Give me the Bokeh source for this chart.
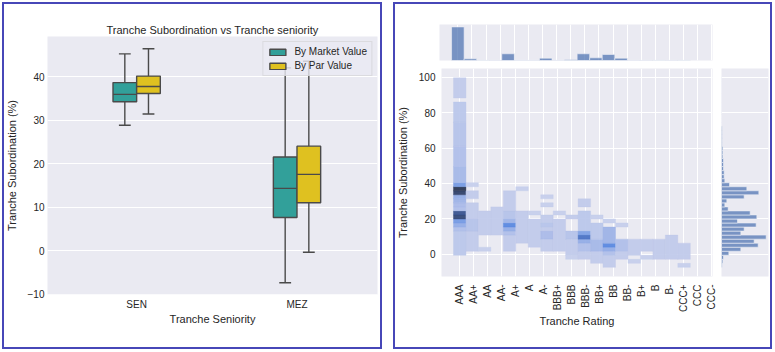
import math
import numpy as np
from bokeh.plotting import figure
from bokeh.layouts import row, column
from bokeh.models import (ColumnDataSource, FixedTicker, Legend, LegendItem, Range1d,
                          Grid, Spacer, LinearColorMapper)
from bokeh.embed import file_html
from bokeh.resources import INLINE

# ---------------- data: left panel (box plots) ----------------
SENIORITY = ["SEN", "MEZ"]
SERIES = ["By Market Value", "By Par Value"]
market_low = [28.8, -7.4]
market_q1 = [34.2, 7.6]
market_med = [35.9, 14.3]
market_q3 = [38.6, 21.5]
market_high = [45.2, 42.0]
par_low = [31.4, -0.4]
par_q1 = [36.1, 11.0]
par_med = [37.7, 17.5]
par_q3 = [40.1, 24.0]
par_high = [46.4, 43.5]
y_ticks_left = [-10, 0, 10, 20, 30, 40]

# ---------------- data: right panel (joint histogram) ----------------
RATINGS = ["AAA", "AA+", "AA", "AA-", "A+", "A", "A-", "BBB+", "BBB", "BBB-",
           "BB+", "BB", "BB-", "B+", "B", "B-", "CCC+", "CCC", "CCC-"]
# histogram bins (data units)
X_BIN0, X_BIN_W, X_NBINS = -0.445, 0.89, 19
Y_BIN0, Y_BIN_W, Y_NBINS = -7.44, 2.28, 47
# 2D histogram, run-length: x bin, first y bin, last y bin, count
hm_xbin = [0, 0, 0, 0, 0, 0, 0, 0, 0, 0, 0, 0, 0, 0, 0, 0, 0, 0,
           1, 1, 1, 1, 1,
           2, 2,
           3,
           4, 4, 4, 4, 4, 4, 4,
           5, 5,
           6, 6,
           7, 7, 7, 7, 7, 7,
           8, 8,
           9, 9, 9, 9,
           10, 10, 10, 10, 10, 10, 10,
           11, 11, 11, 11,
           12, 12, 12, 12, 12, 12,
           13, 13, 13,
           14, 14,
           15, 15,
           16,
           17,
           18, 18]
hm_ylo = [3, 9, 10, 11, 12, 13, 14, 15, 16, 17, 18, 19, 20, 21, 25, 30, 36, 42,
          4, 9, 12, 17, 20,
          8, 4,
          8,
          4, 8, 9, 10, 11, 12, 14,
          6, 19,
          5, 13,
          4, 7, 9, 15, 17, 10,
          4, 13,
          3, 7, 13, 2,
          2, 4, 6, 7, 8, 9, 15,
          1, 4, 7, 12,
          0, 3, 4, 5, 6, 11,
          2, 4, 10,
          3, 1,
          4, 2,
          2,
          2,
          2, 0]
hm_yhi = [8, 9, 10, 11, 12, 13, 14, 15, 16, 17, 18, 19, 20, 24, 29, 35, 40, 46,
          8, 11, 15, 18, 20,
          13, 4,
          14,
          7, 8, 9, 10, 11, 13, 18,
          13, 19,
          11, 13,
          6, 8, 12, 15, 17, 10,
          11, 13,
          6, 8, 11, 2,
          3, 5, 6, 7, 8, 13, 16,
          3, 6, 10, 12,
          2, 3, 4, 5, 9, 11,
          3, 6, 10,
          6, 1,
          6, 2,
          6,
          7,
          5, 0]
hm_count = [3, 5, 9, 12, 27, 25, 5, 6, 8, 9, 28, 30, 12, 7, 5, 4, 3, 2,
            2, 4, 2, 2, 1,
            2, 1,
            2,
            2, 5, 9, 15, 8, 4, 2,
            2, 1,
            2, 1,
            2, 6, 2, 1, 1, 3,
            2, 1,
            2, 4, 2, 1,
            2, 5, 9, 19, 11, 3, 2,
            2, 7, 3, 1,
            2, 5, 9, 15, 8, 1,
            2, 5, 1,
            2, 1,
            2, 1,
            2,
            2,
            2, 1]
# top marginal: counts per x bin
top_counts = [500, 25, 2, 3, 100, 4, 4, 35, 4, 10, 100, 40, 90, 35, 3, 3, 2, 3, 2]
# right marginal: counts per y bin (0..46)
right_counts = [1, 2, 3, 11, 29, 55, 49, 67, 29, 34, 52, 24, 53, 43, 10, 5, 8, 34, 56, 38,
                12, 5, 4, 4, 3, 3, 3, 2, 2, 2, 1, 1, 1, 1, 1,
                0, 0, 0, 0, 0, 0, 0, 0, 0, 0, 0, 0]
y_ticks_right = [0, 20, 40, 60, 80, 100]

# ---------------- styles ----------------
FONT = "Liberation Sans"
TXT = "#262626"
BG = "#eaeaf2"
TEAL = "#32a09a"
GOLD = "#dfc120"
BOXLINE = "#4a4a4a"
HISTC = "#4c72b0"
PANEL_SHADOW = "inset 0 0 0 2px #4747b8"


def style_axis(ax, tick_size="10px", label_size="11px"):
    ax.axis_line_color = None
    ax.major_tick_line_color = None
    ax.minor_tick_line_color = None
    ax.major_tick_out = 0
    ax.major_tick_in = 0
    ax.minor_tick_out = 0
    ax.minor_tick_in = 0
    ax.major_label_text_font = FONT
    ax.major_label_text_font_size = tick_size
    ax.major_label_text_color = TXT
    ax.axis_label_text_font = FONT
    ax.axis_label_text_font_size = label_size
    ax.axis_label_text_font_style = "normal"
    ax.axis_label_text_color = TXT


# ================= left panel =================
p1 = figure(width=380, height=347, x_range=Range1d(-0.556, 1.502), y_range=Range1d(-10.1, 49.2),
            output_backend="svg", toolbar_location=None,
            min_border_left=36, min_border_right=5, min_border_top=34, min_border_bottom=55,
            background_fill_color=BG, border_fill_color=None, outline_line_color=None)
p1.title.text = "Tranche Subordination vs Tranche seniority"
p1.title.text_font = FONT
p1.title.text_font_size = "11px"
p1.title.text_font_style = "normal"
p1.title.text_color = TXT
p1.title.align = "center"
p1.title.standoff = 2
p1.xgrid.visible = False
p1.ygrid.grid_line_color = "white"
p1.ygrid.grid_line_width = 1
p1.yaxis.ticker = FixedTicker(ticks=y_ticks_left)
p1.xaxis.ticker = FixedTicker(ticks=[0, 1])
p1.xaxis.major_label_overrides = {0: SENIORITY[0], 1: SENIORITY[1]}
style_axis(p1.xaxis)
style_axis(p1.yaxis)
p1.xaxis.axis_label = "Tranche Seniority"
p1.yaxis.axis_label = "Tranche Subordination (%)"
p1.xaxis.major_label_standoff = 4
p1.xaxis.axis_label_standoff = 0
p1.yaxis.major_label_standoff = 3
p1.yaxis.axis_label_standoff = 7

BOX_W = 0.1475
OFF = BOX_W / 2
box_renderers = []
for sign, color, lo, q1, med, q3, hi in [(-1, TEAL, market_low, market_q1, market_med, market_q3, market_high),
                                        (1, GOLD, par_low, par_q1, par_med, par_q3, par_high)]:
    xs = [i + sign * OFF for i in range(len(SENIORITY))]
    src = ColumnDataSource(dict(
        x=xs, lo=lo, q1=q1, med=med, q3=q3, hi=hi,
        left=[x - BOX_W / 2 for x in xs], right=[x + BOX_W / 2 for x in xs],
        capl=[x - BOX_W / 4 for x in xs], capr=[x + BOX_W / 4 for x in xs]))
    p1.segment(x0="x", y0="lo", x1="x", y1="q1", source=src, line_color=BOXLINE, line_width=1.4)
    p1.segment(x0="x", y0="q3", x1="x", y1="hi", source=src, line_color=BOXLINE, line_width=1.4)
    p1.segment(x0="capl", y0="lo", x1="capr", y1="lo", source=src, line_color=BOXLINE, line_width=1.4)
    p1.segment(x0="capl", y0="hi", x1="capr", y1="hi", source=src, line_color=BOXLINE, line_width=1.4)
    r = p1.quad(left="left", right="right", bottom="q1", top="q3", source=src,
                fill_color=color, line_color=BOXLINE, line_width=1.4)
    p1.segment(x0="left", y0="med", x1="right", y1="med", source=src, line_color=BOXLINE, line_width=1.4)
    box_renderers.append(r)

legend = Legend(items=[LegendItem(label=SERIES[0], renderers=[box_renderers[0]]),
                       LegendItem(label=SERIES[1], renderers=[box_renderers[1]])],
                location="top_right", margin=5, padding=4, spacing=3,
                glyph_width=20, glyph_height=8, label_height=11, label_standoff=7,
                label_text_font=FONT, label_text_font_size="10px", label_text_color=TXT,
                background_fill_color=BG, background_fill_alpha=0.8,
                border_line_color="#cccccc", border_line_width=1)
p1.add_layout(legend)
p1.styles = {"box-shadow": PANEL_SHADOW}

# ================= right panel =================
x_rng = Range1d(-1.30, 18.05)
y_rng = Range1d(-12.6, 105.0)

# main 2D histogram
p3 = figure(width=324, height=287, x_range=x_rng, y_range=y_rng,
            output_backend="svg", toolbar_location=None,
            min_border_left=46, min_border_right=5, min_border_top=6, min_border_bottom=73,
            background_fill_color=BG, border_fill_color=None, outline_line_color=None)
p3.xaxis.ticker = FixedTicker(ticks=list(range(len(RATINGS))))
p3.xaxis.major_label_overrides = {i: r for i, r in enumerate(RATINGS)}
p3.xaxis.major_label_orientation = math.pi / 2
p3.yaxis.ticker = FixedTicker(ticks=y_ticks_right)
style_axis(p3.xaxis)
style_axis(p3.yaxis)
p3.xaxis.axis_label = "Tranche Rating"
p3.yaxis.axis_label = "Tranche Subordination (%)"
p3.xaxis.major_label_standoff = 8
p3.xaxis.axis_label_standoff = 0
p3.yaxis.major_label_standoff = 6
p3.yaxis.axis_label_standoff = 7
p3.grid.grid_line_color = "white"
p3.grid.grid_line_width = 1

# one rectangle per run of equal counts (avoids seams between equal cells)
run_src = dict(
    l=[X_BIN0 + xb * X_BIN_W for xb in hm_xbin],
    r=[X_BIN0 + (xb + 1) * X_BIN_W for xb in hm_xbin],
    b=[Y_BIN0 + lo * Y_BIN_W for lo in hm_ylo],
    t=[Y_BIN0 + (hi + 1) * Y_BIN_W for hi in hm_yhi],
    c=hm_count)

anchors_t = [0.0, 0.22, 0.48, 0.75, 1.0]
anchors_c = [(196, 205, 235), (160, 180, 231), (86, 134, 224), (58, 92, 168), (38, 50, 80)]
tt = np.linspace(0, 1, 256)
chan = [np.interp(tt, anchors_t, [a[k] for a in anchors_c]) for k in range(3)]
palette = ["#%02x%02x%02x" % (int(round(r)), int(round(g)), int(round(b)))
           for r, g, b in zip(*chan)]
mapper = LinearColorMapper(palette=palette, low=1, high=30)
p3.quad(left="l", right="r", bottom="b", top="t",
        source=ColumnDataSource(run_src),
        fill_color={"field": "c", "transform": mapper}, fill_alpha=0.92,
        line_color={"field": "c", "transform": mapper}, line_alpha=0.92, line_width=0.4)

# top marginal
p2 = figure(width=379, height=60, x_range=x_rng, y_range=Range1d(0, 536),
            output_backend="svg", toolbar_location=None,
            x_axis_location=None, y_axis_location=None,
            min_border_left=46, min_border_right=60, min_border_top=22, min_border_bottom=2,
            background_fill_color=BG, border_fill_color=None, outline_line_color=None)
p2.grid.visible = False
p2.add_layout(Grid(dimension=0, ticker=FixedTicker(ticks=list(range(len(RATINGS)))),
                   grid_line_color="white", grid_line_width=1))
p2.quad(left=[X_BIN0 + i * X_BIN_W for i in range(X_NBINS)],
        right=[X_BIN0 + (i + 1) * X_BIN_W for i in range(X_NBINS)],
        bottom=0, top=top_counts, fill_color=HISTC, fill_alpha=0.72,
        line_color="#eef0f6", line_width=0.6)

# right marginal
p4 = figure(width=55, height=287, x_range=Range1d(0, 70.5), y_range=y_rng,
            output_backend="svg", toolbar_location=None,
            x_axis_location=None, y_axis_location=None,
            min_border_left=4, min_border_right=4, min_border_top=6, min_border_bottom=73,
            background_fill_color=BG, border_fill_color=None, outline_line_color=None)
p4.grid.visible = False
p4.add_layout(Grid(dimension=1, ticker=FixedTicker(ticks=y_ticks_right),
                   grid_line_color="white", grid_line_width=1))
p4.quad(left=0, right=right_counts,
        bottom=[Y_BIN0 + i * Y_BIN_W for i in range(Y_NBINS)],
        top=[Y_BIN0 + (i + 1) * Y_BIN_W for i in range(Y_NBINS)],
        fill_color=HISTC, fill_alpha=0.72, line_color="#eef0f6", line_width=0.6)

right_block = column(p2, row(p3, p4, spacing=0), spacing=0)
right_block.styles = {"box-shadow": PANEL_SHADOW}

layout = column(Spacer(height=2),
                row(Spacer(width=2), p1, Spacer(width=11), right_block, spacing=0),
                spacing=0)

open("out.html", "w").write(file_html(layout, INLINE))
